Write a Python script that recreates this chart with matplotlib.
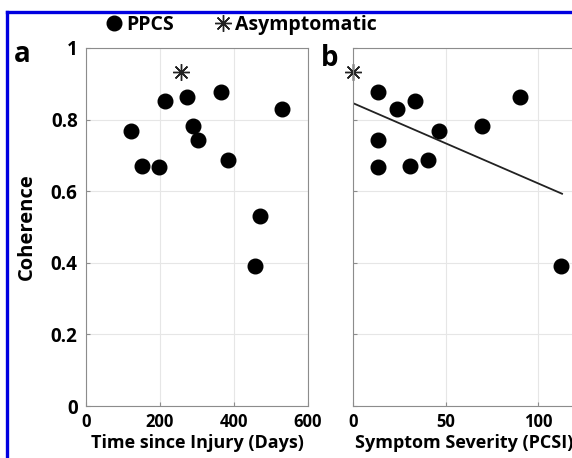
import numpy as np
import matplotlib
matplotlib.use("Agg")
import matplotlib.pyplot as plt
from matplotlib.lines import Line2D

# panel a: time since injury vs coherence
days = [122, 151, 197, 213, 273, 289, 304, 365, 385, 456, 470, 531]
coh_a = [0.768, 0.669, 0.667, 0.851, 0.864, 0.781, 0.743, 0.876, 0.686, 0.391, 0.531, 0.831]
asym_days = [258]
asym_coh_a = [0.932]

# panel b: symptom severity vs coherence
pcsi = [13.3, 13.7, 13.7, 23.8, 30.6, 33.7, 40.5, 46.7, 69.7, 90.5, 112.6]
coh_b = [0.876, 0.743, 0.667, 0.831, 0.670, 0.851, 0.686, 0.768, 0.781, 0.864, 0.391]
asym_pcsi = [0]
asym_coh_b = [0.932]

# fitted line
fit_x = np.array([0, 113])
fit_b0 = 0.846
fit_b1 = -0.00224

plt.rcParams['font.family'] = ['Open Sans', 'DejaVu Sans']
plt.rcParams['font.weight'] = 'bold'
plt.rcParams['axes.labelweight'] = 'bold'

fig = plt.figure(figsize=(5.72, 4.58), dpi=100)
W, H = 572, 458


def px_axes(left, top, right, bottom):
    return fig.add_axes([left / W, 1 - bottom / H, (right - left) / W, (bottom - top) / H])


ax_a = px_axes(86, 48, 308, 406)
ax_b = px_axes(353, 48, 575, 406)

dot = dict(marker='o', color='black', markersize=10.5, linestyle='none')
star = dict(marker=(8, 2, 0), color='#222222', markersize=12, markeredgewidth=1.0, linestyle='none')

h_dot, = ax_a.plot(days, coh_a, **dot)
h_star, = ax_a.plot(asym_days, asym_coh_a, **star)
ax_b.plot(pcsi, coh_b, **dot)
ax_b.plot(asym_pcsi, asym_coh_b, clip_on=False, **star)
ax_b.plot(fit_x, fit_b0 + fit_b1 * fit_x, color='#222222', lw=1.3)

for ax in (ax_a, ax_b):
    ax.set_ylim(0, 1)
    ax.set_yticks([0, 0.2, 0.4, 0.6, 0.8, 1])
    ax.grid(True, color='#e6e6e6', lw=0.8)
    ax.set_axisbelow(True)
    for s in ax.spines.values():
        s.set_color('#8c8c8c')
        s.set_linewidth(0.8)
    ax.tick_params(direction='in', length=3, color='#8c8c8c', labelsize=12, pad=5)
    ax.tick_params(axis='y', labelsize=13.5, pad=6)

ax_a.set_xlim(0, 600)
ax_a.set_xticks([0, 200, 400, 600])
ax_a.set_yticklabels(['0', '0.2', '0.4', '0.6', '0.8', '1'])
ax_a.set_xlabel('Time since Injury (Days)', fontsize=13, labelpad=2)
ax_a.set_ylabel('Coherence', fontsize=14.5, labelpad=10)

ax_b.set_xlim(0, 120)
ax_b.set_xticks([0, 50, 100])
ax_b.set_yticklabels([])
ax_b.set_xlabel('Symptom Severity (PCSI)', fontsize=13, labelpad=2)

fig.text(14 / W, 1 - 62 / H, 'a', fontsize=20, fontweight='bold', va='baseline')
fig.text(321 / W, 1 - 66 / H, 'b', fontsize=20, fontweight='bold', va='baseline')

fig.legend([h_dot, h_star], ['PPCS', 'Asymptomatic'], ncol=2, frameon=False,
           loc='center', bbox_to_anchor=(242 / W, 1 - 25 / H),
           prop={'size': 14, 'weight': 'bold'}, handlelength=0.7,
           handletextpad=0.25, columnspacing=2.2, borderpad=0)

# blue frame along top and left edge
fig.add_artist(Line2D([7 / W, 1], [1 - 12 / H, 1 - 12 / H], color='#0000e0', lw=2.4,
                      transform=fig.transFigure))
fig.add_artist(Line2D([7 / W, 7 / W], [0, 1 - 12 / H], color='#0000e0', lw=2.4,
                      transform=fig.transFigure))

fig.savefig('out.png', dpi=100)
